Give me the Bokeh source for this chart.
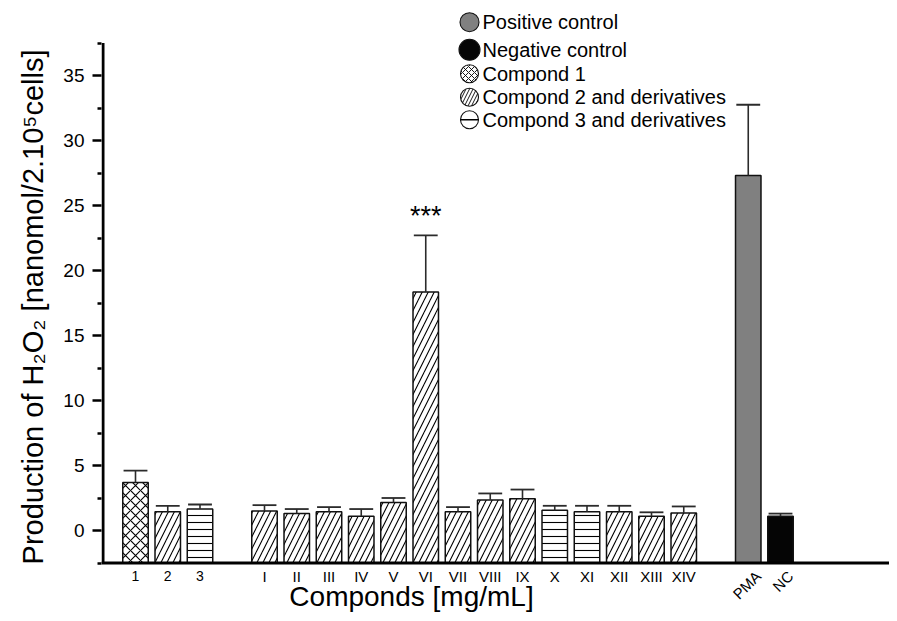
import math
from bokeh.plotting import figure
from bokeh.models import ColumnDataSource, Range1d, FixedTicker
from bokeh.core.properties import value
from bokeh.embed import file_html
from bokeh.resources import INLINE

# ---------------- data ----------------
categories = ["1", "2", "3", "I", "II", "III", "IV", "V", "VI", "VII", "VIII",
              "IX", "X", "XI", "XII", "XIII", "XIV", "PMA", "NC"]
positions = [0, 1, 2, 4, 5, 6, 7, 8, 9, 10, 11, 12, 13, 14, 15, 16, 17, 19, 20]
means = [3.7, 1.45, 1.65, 1.5, 1.3, 1.45, 1.1, 2.15, 18.35, 1.45, 2.35,
         2.45, 1.55, 1.45, 1.45, 1.1, 1.35, 27.3, 1.1]
errors = [0.9, 0.45, 0.35, 0.45, 0.35, 0.35, 0.55, 0.35, 4.35, 0.35, 0.5,
          0.7, 0.35, 0.45, 0.45, 0.3, 0.5, 5.45, 0.2]
groups = ["c1", "c2", "c3", "c2", "c2", "c2", "c2", "c2", "c2", "c2", "c2",
          "c2", "c3", "c3", "c2", "c2", "c2", "pos", "neg"]
significance = {"VI": "***"}
legend_groups = ["pos", "neg", "c1", "c2", "c3"]
legend_labels = ["Positive control", "Negative control", "Compond 1",
                 "Compond 2 and derivatives", "Compond 3 and derivatives"]
y_ticks = [0, 5, 10, 15, 20, 25, 30, 35]
y_minor = [-2.5, 2.5, 7.5, 12.5, 17.5, 22.5, 27.5, 32.5, 37.5]
x_title = "Componds [mg/mL]"
y_title = "Production of H\u2082O\u2082 [nanomol/2.10\u2075cells]"

# ---------------- styles ----------------
FONT = "Liberation Sans"
STYLE = {
    "pos": dict(fill="#808080", hatch="blank", scale=10),
    "neg": dict(fill="#050505", hatch="blank", scale=10),
    "c1": dict(fill="white", hatch="x", scale=10),
    "c2": dict(fill="white", hatch="/", scale=12),
    "c3": dict(fill="white", hatch="-", scale=7),
}

# ---------------- layout (figure pixels) ----------------
W, H = 889, 613
LEFT = 101
X0_PX, DX = 135.0, 32.25     # pixel of category slot 0, pixels per slot
Y0_PX, DY = 530.0, 13.0      # pixel of value 0, pixels per unit
BASE = -2.5
YTOP = 37.5

x_start = (LEFT - X0_PX) / DX
x_end = (W - X0_PX) / DX
y_end = Y0_PX / DY
y_start = -(H - Y0_PX) / DY


def fx(px):
    return (px - X0_PX) / DX


def fy(py):
    return (Y0_PX - py) / DY


p = figure(width=W, height=H, x_range=Range1d(x_start, x_end),
           y_range=Range1d(y_start, y_end), x_axis_location=None,
           y_axis_location="left", min_border_left=LEFT, min_border_right=0,
           min_border_top=0, min_border_bottom=0, outline_line_color=None,
           toolbar_location=None, output_backend="svg",
           background_fill_color="white", border_fill_color="white")
p.grid.visible = False

ax = p.yaxis[0]
ax.ticker = FixedTicker(ticks=y_ticks, minor_ticks=y_minor)
ax.axis_line_color = None
ax.major_tick_in = 0
ax.major_tick_out = 9
ax.minor_tick_in = 0
ax.minor_tick_out = 4
ax.major_tick_line_width = 2.5
ax.minor_tick_line_width = 2.5
ax.major_tick_line_color = "black"
ax.minor_tick_line_color = "black"
ax.major_label_standoff = 8
ax.major_label_text_font = FONT
ax.major_label_text_font_size = "19px"
ax.major_label_text_color = "black"
ax.axis_label = y_title
ax.axis_label_text_font = FONT
ax.axis_label_text_font_size = "29px"
ax.axis_label_text_font_style = "normal"
ax.axis_label_text_color = "black"
ax.axis_label_standoff = 11

# ---------------- bars ----------------
n = len(categories)
src = ColumnDataSource(dict(
    x=positions, top=means, bottom=[BASE] * n,
    fill=[STYLE[g]["fill"] for g in groups],
    hatch=[STYLE[g]["hatch"] for g in groups],
    hscale=[STYLE[g]["scale"] for g in groups],
))
p.vbar(x="x", top="top", bottom="bottom", width=0.79, fill_color="fill",
       line_color="#111111", line_width=1.5, hatch_pattern="hatch",
       hatch_scale="hscale", hatch_color="black", hatch_weight=1.1, source=src)

# error bars (upper only)
ex = positions
ey0 = means
ey1 = [m + e for m, e in zip(means, errors)]
p.segment(x0=ex, y0=ey0, x1=ex, y1=ey1, line_color="#2b2b2b", line_width=1.6)
p.segment(x0=[x - 0.37 for x in ex], y0=ey1, x1=[x + 0.37 for x in ex], y1=ey1,
          line_color="#2b2b2b", line_width=1.8)

# significance
for cat, mark in significance.items():
    i = categories.index(cat)
    p.text(x=[positions[i]], y=[ey1[i]], text=[mark], text_align="center",
           text_baseline="middle", y_offset=-19, text_font=value(FONT),
           text_font_size="27px", text_color="black")

# ---------------- axis lines ----------------
p.segment(x0=[fx(102.5)], y0=[BASE], x1=[fx(102.5)], y1=[YTOP],
          line_color="black", line_width=3)
p.segment(x0=[x_start], y0=[BASE], x1=[x_end], y1=[BASE],
          line_color="black", line_width=3)

# ---------------- x tick labels ----------------
digits = [i for i, c in enumerate(categories) if c.isdigit()]
roman = [i for i, c in enumerate(categories)
         if not c.isdigit() and c not in ("PMA", "NC")]
rot = [i for i, c in enumerate(categories) if c in ("PMA", "NC")]
p.text(x=[positions[i] for i in digits], y=[fy(575)] * len(digits),
       text=[categories[i] for i in digits], text_align="center",
       text_baseline="middle", text_font=value(FONT), text_font_size="14px",
       text_color="black")
p.text(x=[positions[i] for i in roman], y=[fy(576)] * len(roman),
       text=[categories[i] for i in roman], text_align="center",
       text_baseline="middle", text_font=value(FONT), text_font_size="15px",
       text_color="black")
p.text(x=[positions[i] for i in rot], y=[fy(573)] * len(rot),
       text=[categories[i] for i in rot], text_align="right",
       text_baseline="middle", angle=math.pi / 4, x_offset=10,
       text_font=value(FONT), text_font_size="15px", text_color="black")

# x title
p.text(x=[fx(411)], y=[fy(596)], text=[x_title], text_align="center",
       text_baseline="middle", text_font=value(FONT), text_font_size="28px",
       text_color="black")

# ---------------- legend (drawn manually) ----------------
rows_py = [21.7, 49.3, 73.3, 96.7, 119.3]
sizes = [19, 21, 18, 18, 18]
mx = fx(469)
for g, py, s in zip(legend_groups, rows_py, sizes):
    st = STYLE[g]
    p.scatter(x=[mx], y=[fy(py)], size=s, marker="circle",
              fill_color=st["fill"], line_color="#111111", line_width=1.1,
              hatch_pattern=st["hatch"] if g != "c3" else "blank",
              hatch_scale=6 if g == "c1" else 7, hatch_color="black",
              hatch_weight=0.9)
    if g == "c3":
        p.scatter(x=[mx], y=[fy(py)], size=s, marker="dash",
                  line_color="black", line_width=1.5)
p.text(x=[fx(482)] * len(legend_labels), y=[fy(py) for py in rows_py],
       text=legend_labels, text_align="left", text_baseline="middle",
       text_font=value(FONT), text_font_size="20px", text_color="black")

open("out.html", "w").write(file_html(p, INLINE))
